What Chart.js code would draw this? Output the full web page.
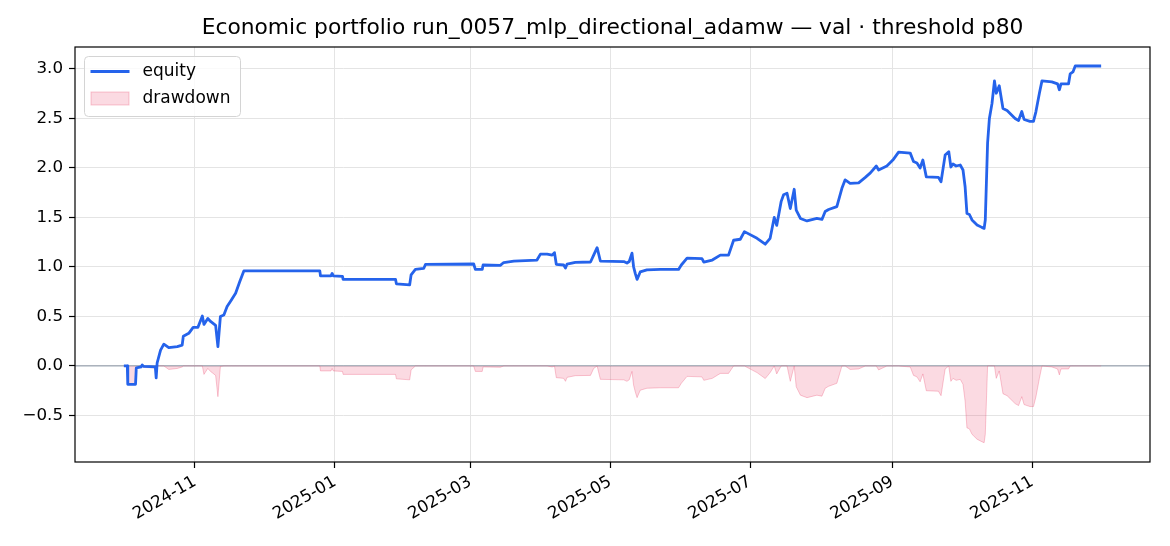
<!DOCTYPE html>
<html>
<head>
<meta charset="utf-8">
<script src="https://cdn.jsdelivr.net/npm/chart.js@4.4.1/dist/chart.umd.min.js"></script>
<style>
  html, body { margin: 0; padding: 0; background: #fff; }
  #wrap { width: 1170px; height: 546px; }
</style>
</head>
<body>
<div id="wrap"><canvas id="chart"></canvas></div>
<script>
// equity curve (date, cumulative return)
var dates = [
  '2024-10-01T00', '2024-10-02T12', '2024-10-02T17', '2024-10-06T02', '2024-10-06T10',
  '2024-10-08T12', '2024-10-09T00', '2024-10-09T17', '2024-10-14T17', '2024-10-15T02',
  '2024-10-15T12', '2024-10-17T00', '2024-10-18T10', '2024-10-20T14', '2024-10-24T07',
  '2024-10-26T10', '2024-10-26T22', '2024-10-29T07', '2024-10-31T05', '2024-11-02T07',
  '2024-11-04T05', '2024-11-04T22', '2024-11-06T14', '2024-11-07T19', '2024-11-10T00',
  '2024-11-11T00', '2024-11-12T02', '2024-11-13T14', '2024-11-15T00', '2024-11-16T19',
  '2024-11-18T17', '2024-11-20T12', '2024-11-22T07', '2024-12-25T10', '2024-12-25T17',
  '2024-12-30T07', '2024-12-30T19', '2024-12-31T07', '2025-01-04T07', '2025-01-04T14',
  '2025-01-27T10', '2025-01-27T19', '2025-02-02T14', '2025-02-03T05', '2025-02-05T02',
  '2025-02-08T17', '2025-02-09T12', '2025-03-02T12', '2025-03-03T05', '2025-03-06T05',
  '2025-03-06T14', '2025-03-14T02', '2025-03-15T14', '2025-03-20T00', '2025-03-30T02',
  '2025-03-31T14', '2025-04-03T12', '2025-04-05T17', '2025-04-06T17', '2025-04-07T12',
  '2025-04-10T17', '2025-04-11T12', '2025-04-12T05', '2025-04-15T19', '2025-04-22T10',
  '2025-04-23T19', '2025-04-25T07', '2025-04-26T17', '2025-05-06T22', '2025-05-08T07',
  '2025-05-09T07', '2025-05-10T12', '2025-05-11T05', '2025-05-11T22', '2025-05-12T17',
  '2025-05-14T02', '2025-05-17T00', '2025-05-22T22', '2025-05-30T19', '2025-06-01T00',
  '2025-06-03T12', '2025-06-10T00', '2025-06-10T19', '2025-06-14T12', '2025-06-18T00',
  '2025-06-21T14', '2025-06-23T19', '2025-06-26T17', '2025-06-28T12', '2025-07-04T00',
  '2025-07-07T14', '2025-07-09T17', '2025-07-11T12', '2025-07-12T14', '2025-07-14T12',
  '2025-07-15T14', '2025-07-17T02', '2025-07-18T12', '2025-07-20T05', '2025-07-21T02',
  '2025-07-22T22', '2025-07-25T19', '2025-07-30T02', '2025-08-01T07', '2025-08-02T17',
  '2025-08-04T05', '2025-08-07T19', '2025-08-10T00', '2025-08-11T10', '2025-08-13T14',
  '2025-08-17T07', '2025-08-20T05', '2025-08-22T10', '2025-08-25T00', '2025-08-26T00',
  '2025-08-29T14', '2025-09-01T05', '2025-09-03T17', '2025-09-08T19', '2025-09-10T05',
  '2025-09-11T17', '2025-09-13T02', '2025-09-14T07', '2025-09-15T19', '2025-09-21T02',
  '2025-09-22T05', '2025-09-24T00', '2025-09-25T14', '2025-09-26T12', '2025-09-27T10',
  '2025-09-28T19', '2025-09-30T14', '2025-10-01T19', '2025-10-02T17', '2025-10-03T12',
  '2025-10-04T14', '2025-10-05T17', '2025-10-07T22', '2025-10-10T00', '2025-10-11T00',
  '2025-10-11T12', '2025-10-12T12', '2025-10-13T07', '2025-10-14T10', '2025-10-15T12',
  '2025-10-16T07', '2025-10-17T14', '2025-10-19T05', '2025-10-21T00', '2025-10-24T12',
  '2025-10-26T00', '2025-10-27T10', '2025-10-28T10', '2025-10-31T00', '2025-11-01T12',
  '2025-11-02T14', '2025-11-04T02', '2025-11-05T05', '2025-11-09T12', '2025-11-12T00',
  '2025-11-12T19', '2025-11-13T12', '2025-11-16T19', '2025-11-17T12', '2025-11-18T17',
  '2025-11-19T17', '2025-12-01T00'
];
var equity = [
  0.00, 0.00, -0.185, -0.185, -0.02,
  -0.01, 0.01, -0.005, -0.01, -0.12,
  0.03, 0.16, 0.22, 0.185, 0.195,
  0.21, 0.30, 0.33, 0.39, 0.39,
  0.505, 0.42, 0.48, 0.45, 0.41,
  0.195, 0.50, 0.515, 0.60, 0.665,
  0.735, 0.85, 0.96, 0.96, 0.91,
  0.91, 0.935, 0.91, 0.905, 0.875,
  0.875, 0.83, 0.82, 0.92, 0.975,
  0.985, 1.027, 1.03, 0.975, 0.975,
  1.02, 1.017, 1.045, 1.06, 1.07,
  1.13, 1.13, 1.12, 1.145, 1.027,
  1.02, 0.99, 1.03, 1.047, 1.05,
  1.12, 1.195, 1.06, 1.055, 1.04,
  1.055, 1.14, 1.00, 0.935, 0.875,
  0.95, 0.97, 0.975, 0.975, 1.02,
  1.09, 1.085, 1.05, 1.07, 1.12,
  1.12, 1.27, 1.28, 1.357, 1.29,
  1.23, 1.29, 1.50, 1.42, 1.66,
  1.73, 1.745, 1.59, 1.785, 1.575,
  1.49, 1.465, 1.49, 1.48, 1.56,
  1.58, 1.61, 1.795, 1.88, 1.845,
  1.85, 1.905, 1.95, 2.02, 1.98,
  2.02, 2.08, 2.16, 2.15, 2.065,
  2.05, 2.00, 2.08, 1.91, 1.905,
  1.86, 2.13, 2.165, 2.01, 2.04,
  2.02, 2.03, 1.98, 1.81, 1.54,
  1.53, 1.475, 1.425, 1.40, 1.39,
  1.475, 2.25, 2.50, 2.65, 2.88,
  2.755, 2.83, 2.60, 2.58, 2.50,
  2.48, 2.57, 2.49, 2.47, 2.47,
  2.57, 2.755, 2.88, 2.87, 2.85,
  2.79, 2.85, 2.85, 2.95, 2.97,
  3.03, 3.03
];
var yTicks = [-0.5, 0.0, 0.5, 1.0, 1.5, 2.0, 2.5, 3.0];
var xTickLabels = ['2024-11', '2025-01', '2025-03', '2025-05', '2025-07', '2025-09', '2025-11'];

var titleText = 'Economic portfolio run_0057_mlp_directional_adamw \u2014 val \u00b7 threshold p80';
var FONT = '"DejaVu Sans", "Liberation Sans", sans-serif';
var BLUE = '#2563eb';
var PINK_FILL = 'rgba(236, 72, 110, 0.2)';
var PINK_EDGE = 'rgba(236, 72, 110, 0.3)';

var times = dates.map(function (d) { return Date.parse(d + ':00Z'); });
var equityPts = times.map(function (t, i) { return { x: t, y: equity[i] }; });
// drawdown = equity minus its running peak
var peak = -Infinity;
var ddPts = times.map(function (t, i) {
  peak = Math.max(peak, equity[i]);
  return { x: t, y: equity[i] - peak };
});

var tMin = times[0], tMax = times[times.length - 1];
var pad = (tMax - tMin) * 0.05;
var xTickVals = xTickLabels.map(function (s) { return Date.parse(s + '-01T00:00:00Z'); });

function fmtMonth(v) {
  var d = new Date(v);
  var m = d.getUTCMonth() + 1;
  return d.getUTCFullYear() + '-' + (m < 10 ? '0' : '') + m;
}
function fmtY(v) {
  var s = Math.abs(v).toFixed(1);
  return v < 0 ? '\u2212' + s : s;
}

var decor = {
  id: 'decor',
  beforeDatasetsDraw: function (chart) {
    var ctx = chart.ctx, a = chart.chartArea;
    var y0 = chart.scales.y.getPixelForValue(0);
    ctx.save();
    ctx.strokeStyle = 'rgba(100, 116, 139, 0.6)';
    ctx.lineWidth = 1.2;
    ctx.beginPath();
    ctx.moveTo(a.left, y0);
    ctx.lineTo(a.right, y0);
    ctx.stroke();
    ctx.restore();
  },
  afterDraw: function (chart) {
    var ctx = chart.ctx, a = chart.chartArea;
    ctx.save();
    // frame
    ctx.strokeStyle = '#000';
    ctx.lineWidth = 1.2;
    ctx.strokeRect(a.left, a.top, a.right - a.left, a.bottom - a.top);
    // title
    ctx.fillStyle = '#000';
    ctx.font = '21.8px ' + FONT;
    ctx.textAlign = 'center';
    ctx.textBaseline = 'middle';
    ctx.fillText(titleText, (a.left + a.right) / 2, 28);
    // legend box
    var bx = a.left + 9.5, by = a.top + 9.5, bw = 156, bh = 60, r = 4;
    ctx.beginPath();
    ctx.moveTo(bx + r, by);
    ctx.arcTo(bx + bw, by, bx + bw, by + bh, r);
    ctx.arcTo(bx + bw, by + bh, bx, by + bh, r);
    ctx.arcTo(bx, by + bh, bx, by, r);
    ctx.arcTo(bx, by, bx + bw, by, r);
    ctx.closePath();
    ctx.fillStyle = 'rgba(255,255,255,0.8)';
    ctx.fill();
    ctx.strokeStyle = '#d4d4d4';
    ctx.lineWidth = 1;
    ctx.stroke();
    ctx.strokeStyle = BLUE;
    ctx.lineWidth = 2.8;
    ctx.beginPath();
    ctx.moveTo(bx + 6, by + 15);
    ctx.lineTo(bx + 45, by + 15);
    ctx.stroke();
    ctx.fillStyle = PINK_FILL;
    ctx.fillRect(bx + 6.5, by + 35.5, 38, 13);
    ctx.strokeStyle = PINK_EDGE;
    ctx.lineWidth = 1;
    ctx.strokeRect(bx + 6.5, by + 35.5, 38, 13);
    ctx.fillStyle = '#000';
    ctx.font = '17px ' + FONT;
    ctx.textAlign = 'left';
    ctx.textBaseline = 'middle';
    ctx.fillText('equity', bx + 58, by + 15);
    ctx.fillText('drawdown', bx + 58, by + 42);
    ctx.restore();
  }
};

var ctx = document.getElementById('chart').getContext('2d');
new Chart(ctx, {
  type: 'line',
  data: {
    datasets: [{
      label: 'equity',
      data: equityPts,
      borderColor: BLUE,
      borderWidth: 2.8,
      borderJoinStyle: 'round',
      pointRadius: 0,
      fill: false,
      tension: 0
    }, {
      label: 'drawdown',
      data: ddPts,
      borderColor: PINK_EDGE,
      backgroundColor: PINK_FILL,
      borderWidth: 1,
      pointRadius: 0,
      fill: 'origin',
      tension: 0
    }]
  },
  options: {
    responsive: true,
    maintainAspectRatio: false,
    animation: false,
    layout: { padding: { top: 47, right: 20, left: 0, bottom: 0 } },
    plugins: {
      legend: { display: false },
      title: { display: false },
      tooltip: { enabled: false }
    },
    scales: {
      x: {
        type: 'linear',
        min: tMin - pad,
        max: tMax + pad,
        afterBuildTicks: function (scale) {
          scale.ticks = xTickVals.map(function (v) { return { value: v }; });
        },
        afterFit: function (scale) { scale.height = 84; },
        ticks: {
          autoSkip: false,
          minRotation: 30,
          maxRotation: 30,
          padding: 4,
          color: '#000',
          font: { family: FONT, size: 16.7 },
          callback: function (v) { return fmtMonth(v); }
        },
        grid: { color: '#e4e4e4', lineWidth: 1, tickColor: '#000', tickLength: 6, tickWidth: 1.2 },
        border: { display: false }
      },
      y: {
        min: -0.97,
        max: 3.222,
        afterBuildTicks: function (scale) {
          scale.ticks = yTicks.map(function (v) { return { value: v }; });
        },
        afterFit: function (scale) { scale.width = 75; },
        ticks: {
          padding: 6,
          color: '#000',
          font: { family: FONT, size: 16.7 },
          callback: function (v) { return fmtY(v); }
        },
        grid: { color: '#e4e4e4', lineWidth: 1, tickColor: '#000', tickLength: 6, tickWidth: 1.2 },
        border: { display: false }
      }
    }
  },
  plugins: [decor]
});
</script>
</body>
</html>
